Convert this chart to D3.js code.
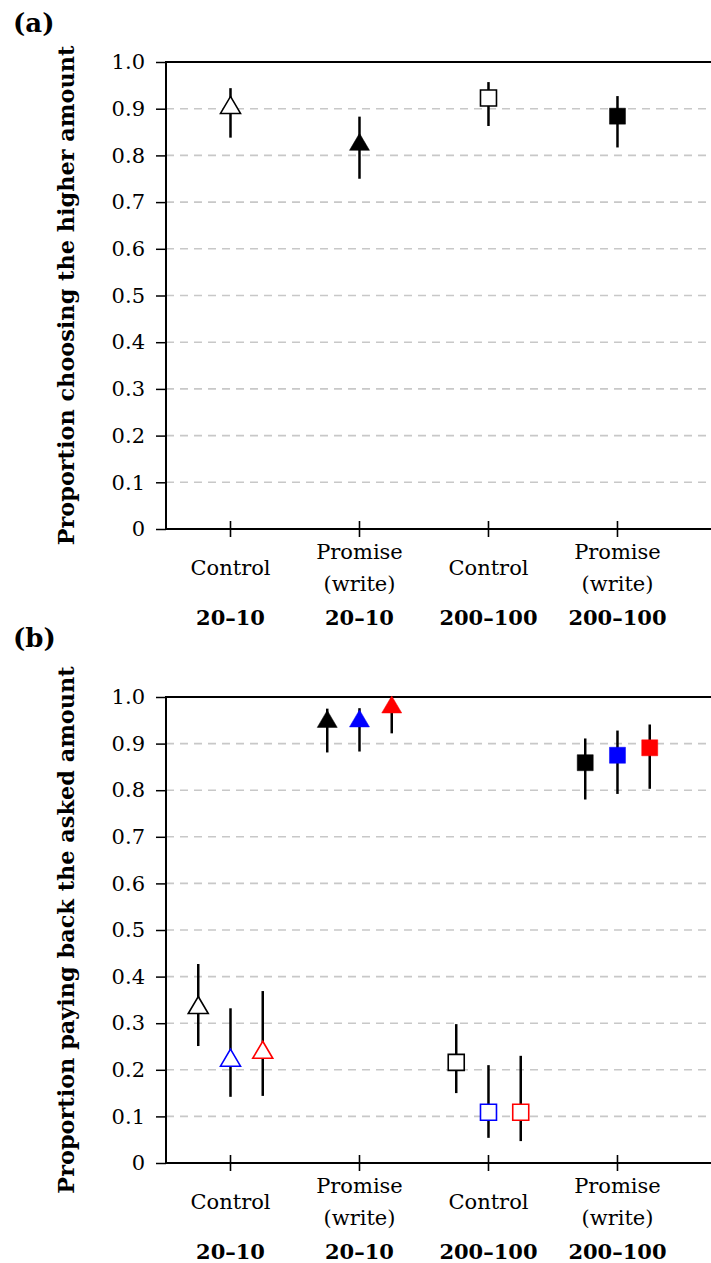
<!DOCTYPE html>
<html><head><meta charset="utf-8">
<script src="https://cdn.jsdelivr.net/npm/d3@7"></script>
<style>body{margin:0;background:#fff}svg{display:block}text{font-family:"DejaVu Serif",serif}</style>
</head><body>
<svg id="c" width="711" height="1263"></svg>
<script>
const categories = ["Control", "Promise|(write)", "Control", "Promise|(write)"];
const stakes = ["20–10", "20–10", "200–100", "200–100"];
const yTicks = [0, 0.1, 0.2, 0.3, 0.4, 0.5, 0.6, 0.7, 0.8, 0.9, 1.0];
const shapes = ["triangle", "triangle", "square", "square"];
const filled = [false, true, false, true];

// Panel (a)
const meanA = [0.908, 0.829, 0.923, 0.884];
const lowA  = [0.838, 0.750, 0.863, 0.817];
const highA = [0.944, 0.883, 0.957, 0.927];

// Panel (b): three series per category
const seriesColors = ["#000000", "#0000ff", "#ff0000"];
const seriesOffsets = [-0.25, 0, 0.25];
const meanBBlack = [0.339, 0.953, 0.216, 0.859];
const lowBBlack  = [0.251, 0.881, 0.150, 0.780];
const highBBlack = [0.427, 0.975, 0.298, 0.911];
const meanBBlue  = [0.226, 0.954, 0.109, 0.875];
const lowBBlue   = [0.142, 0.883, 0.054, 0.792];
const highBBlue  = [0.332, 0.976, 0.210, 0.928];
const meanBRed   = [0.243, 0.984, 0.109, 0.891];
const lowBRed    = [0.144, 0.922, 0.047, 0.803];
const highBRed   = [0.369, 0.998, 0.230, 0.941];

const svg = d3.select("#c");
const left = 166, right = 711;
const x = d3.scaleLinear().domain([-0.5, 3.725]).range([left, right]);
const FONT = '"DejaVu Serif",serif';

function panel(top, bottom, label, labelY, ylabel, points) {
  const y = d3.scaleLinear().domain([0, 1]).range([bottom, top]);
  const g = svg.append("g");
  // grid
  g.selectAll(".grid").data(yTicks.filter(t => t > 0 && t < 1)).enter().append("line")
    .attr("x1", left).attr("x2", right).attr("y1", d => y(d)).attr("y2", d => y(d))
    .attr("stroke", "#c8c8c8").attr("stroke-width", 1.6).attr("stroke-dasharray", "8,6");
  // y axis
  const ya = d3.axisLeft(y).tickValues(yTicks).tickFormat(d => d === 0 ? "0" : d3.format(".1f")(d)).tickSize(10).tickPadding(11);
  const yg = g.append("g").attr("transform", `translate(${left},0)`).call(ya);
  yg.attr("font-family", FONT);
  yg.select(".domain").remove();
  yg.selectAll(".tick line").attr("stroke", "#000").attr("stroke-width", 1.5);
  yg.selectAll(".tick text").attr("font-size", 21).attr("fill", "#000").style("font-family", FONT);
  // spines
  g.append("line").attr("x1", left).attr("x2", left).attr("y1", top).attr("y2", bottom).attr("stroke", "#000").attr("stroke-width", 2);
  g.append("line").attr("x1", left - 1).attr("x2", right).attr("y1", top).attr("y2", top).attr("stroke", "#000").attr("stroke-width", 2);
  g.append("line").attr("x1", left - 1).attr("x2", right).attr("y1", bottom).attr("y2", bottom).attr("stroke", "#000").attr("stroke-width", 2);
  // x ticks
  g.selectAll(".xt").data(categories).enter().append("line")
    .attr("x1", (d, i) => x(i)).attr("x2", (d, i) => x(i)).attr("y1", bottom - 8).attr("y2", bottom + 8)
    .attr("stroke", "#000").attr("stroke-width", 1.6);
  // x labels
  categories.forEach((c, i) => {
    const lines = c.split("|");
    const t = g.append("text").attr("text-anchor", "middle").attr("font-size", 21).attr("fill", "#000");
    if (lines.length === 1) {
      t.append("tspan").attr("x", x(i)).attr("y", bottom + 46).text(lines[0]);
    } else {
      t.append("tspan").attr("x", x(i)).attr("y", bottom + 30).text(lines[0]);
      t.append("tspan").attr("x", x(i)).attr("y", bottom + 62).text(lines[1]);
    }
    g.append("text").attr("x", x(i)).attr("y", bottom + 96).attr("text-anchor", "middle")
      .attr("font-size", 21).attr("font-weight", "bold").text(stakes[i]);
  });
  // panel label
  g.append("text").attr("x", 13).attr("y", labelY).attr("font-size", 26).attr("font-weight", "bold").text(label);
  // y label
  g.append("text").attr("transform", `translate(74,${(top + bottom) / 2}) rotate(-90)`)
    .attr("text-anchor", "middle").attr("font-size", 22.4).attr("font-weight", "bold").text(ylabel);
  // error bars
  g.selectAll(".err").data(points).enter().append("line")
    .attr("x1", d => x(d.i + d.off)).attr("x2", d => x(d.i + d.off))
    .attr("y1", d => y(d.lo)).attr("y2", d => y(d.hi))
    .attr("stroke", "#000").attr("stroke-width", 2.5);
  // markers
  g.selectAll(".mk").data(points).enter().append("path")
    .attr("transform", d => `translate(${x(d.i + d.off)},${y(d.m)})`)
    .attr("d", d => d.shape === "triangle"
      ? "M0,-8.5L10,8.5L-10,8.5Z"
      : "M-8,-8L8,-8L8,8L-8,8Z")
    .attr("fill", d => d.filled ? d.color : "#fff")
    .attr("stroke", d => d.color)
    .attr("stroke-width", d => d.filled ? 0.5 : 1.6);
}

const ptsA = meanA.map((m, i) => ({i, off: 0, m, lo: lowA[i], hi: highA[i], shape: shapes[i], filled: filled[i], color: "#000"}));
panel(62, 529, "(a)", 32, "Proportion choosing the higher amount", ptsA);

const bSeries = [[meanBBlack, lowBBlack, highBBlack], [meanBBlue, lowBBlue, highBBlue], [meanBRed, lowBRed, highBRed]];
const ptsB = [];
bSeries.forEach((s, k) => s[0].forEach((m, i) => ptsB.push({i, off: seriesOffsets[k], m, lo: s[1][i], hi: s[2][i], shape: shapes[i], filled: filled[i], color: seriesColors[k]})));
panel(697, 1163, "(b)", 647, "Proportion paying back the asked amount", ptsB);
</script>
</body></html>
